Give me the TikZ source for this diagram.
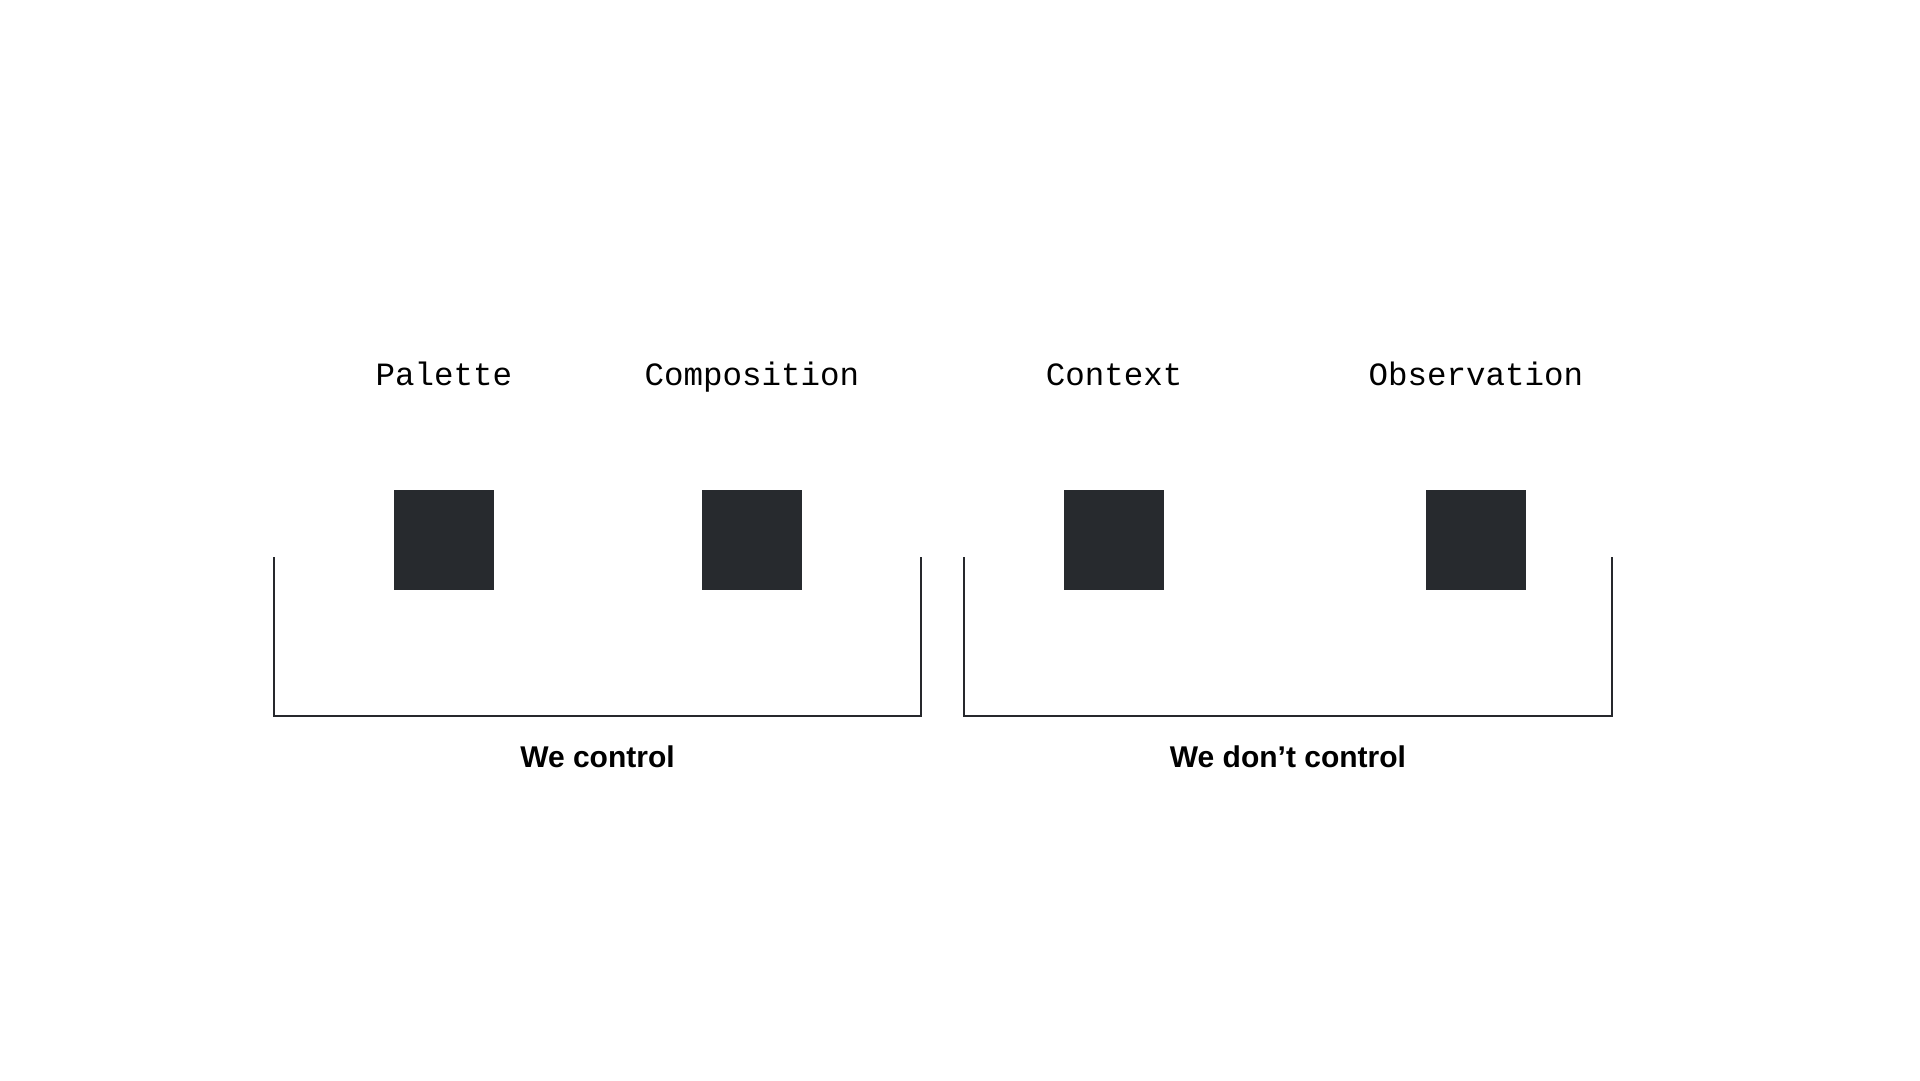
\documentclass[tikz,border=0pt]{standalone}
\usepackage{fontspec}
\setmainfont{Liberation Sans}
\newfontfamily\labelmono{Liberation Mono}
\definecolor{sq}{RGB}{39,42,46}
\definecolor{ln}{RGB}{38,40,44}
\begin{document}
\begin{tikzpicture}[x=1pt,y=-1pt,
  box/.style={fill=sq,draw=none,minimum width=100pt,minimum height=100pt,inner sep=0pt,outer sep=0pt},
  title/.style={font=\labelmono\fontsize{32.5}{36}\selectfont,anchor=base,inner sep=0pt,text=black},
  group/.style={font=\bfseries\fontsize{30}{34}\selectfont,anchor=base,inner sep=0pt,text=black},
  bracket/.style={draw=ln,line width=2pt}]
\useasboundingbox (0,0) rectangle (1920,1080);
\fill[white] (0,0) rectangle (1920,1080);
% squares
\node[box] (p) at (444,540) {};
\node[box] (c) at (752,540) {};
\node[box] (x) at (1114,540) {};
\node[box] (o) at (1476,540) {};
% titles
\node[title] (tp) at (444,385) {Palette};
\node[title] (tc) at (752,385) {Composition};
\node[title] (tx) at (1114,385) {Context};
\node[title] (to) at (1476,385) {Observation};
% brackets
\coordinate (l1) at (274,557);
\coordinate (l2) at (274,716);
\coordinate (l3) at (921,716);
\coordinate (l4) at (921,557);
\coordinate (r1) at (964,557);
\coordinate (r2) at (964,716);
\coordinate (r3) at (1612,716);
\coordinate (r4) at (1612,557);
\draw[bracket] (l1) -- (l2) -- (l3) -- (l4);
\draw[bracket] (r1) -- (r2) -- (r3) -- (r4);
% group labels
\node[group] (gl) at (597.5,767) {We control};
\node[group] (gr) at (1288,767) {We don’t control};
\end{tikzpicture}
\end{document}
